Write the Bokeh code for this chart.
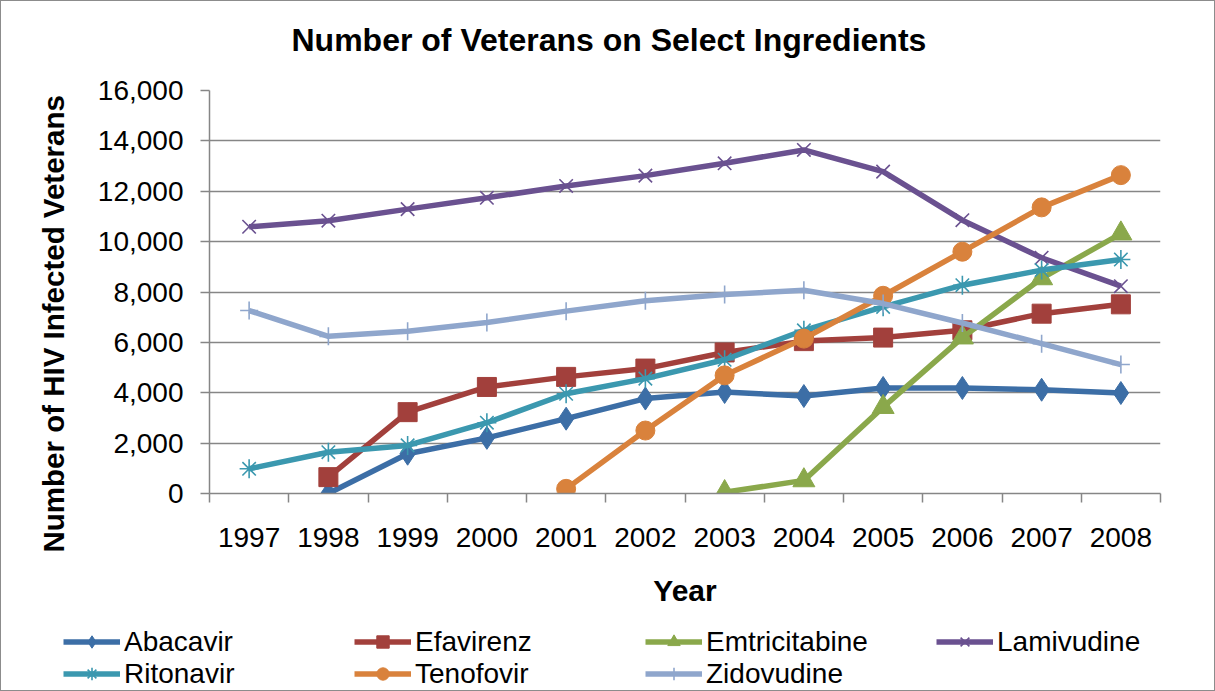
from bokeh.plotting import figure
from bokeh.layouts import column
from bokeh.models import (Range1d, FixedTicker, NumeralTickFormatter, Legend,
                          LegendItem, Title, ColumnDataSource)
from bokeh.embed import file_html
from bokeh.resources import INLINE

# ---------------- data ----------------
years = [1997, 1998, 1999, 2000, 2001, 2002, 2003, 2004, 2005, 2006, 2007, 2008]
abacavir = [None, 0, 1580, 2210, 2970, 3770, 4030, 3870, 4190, 4190, 4120, 3990]
efavirenz = [None, 650, 3230, 4230, 4630, 4960, 5600, 6050, 6190, 6480, 7140, 7510]
emtricitabine = [None, None, None, None, None, None, 50, 520, 3430, 6190, 8540, 10320]
lamivudine = [10590, 10830, 11290, 11740, 12210, 12620, 13110, 13640, 12780, 10850, 9360, 8230]
ritonavir = [980, 1640, 1910, 2810, 3960, 4560, 5310, 6480, 7410, 8270, 8870, 9290]
tenofovir = [None, None, None, None, 185, 2500, 4690, 6150, 7850, 9600, 11360, 12640]
zidovudine = [7265, 6240, 6440, 6790, 7240, 7650, 7900, 8070, 7540, 6770, 5950, 5120]
y_ticks = [0, 2000, 4000, 6000, 8000, 10000, 12000, 14000, 16000]

series = [
    ("Abacavir", abacavir, "#3C6EA6", "diamond", 23, 1),
    ("Efavirenz", efavirenz, "#A2403C", "square", 19, 1),
    ("Emtricitabine", emtricitabine, "#8AA84B", "triangle", 22, 1),
    ("Lamivudine", lamivudine, "#6A5190", "x", 19, 1.6),
    ("Ritonavir", ritonavir, "#3B98AF", "asterisk", 19, 1.6),
    ("Tenofovir", tenofovir, "#D9823C", "circle", 19, 1),
    ("Zidovudine", zidovudine, "#8FA6CC", "cross", 18, 1.6),
]

FONT = "Liberation Sans"
GRAY = "#868686"

p = figure(width=1213, height=624,
           x_range=Range1d(1996.5, 2008.5), y_range=Range1d(0, 16000),
           output_backend="svg", toolbar_location=None,
           min_border_left=208, min_border_right=54,
           min_border_top=89, min_border_bottom=132)
p.frame_align = False
p.outline_line_color = None
p.background_fill_color = "white"
p.border_fill_color = "white"

# small spacer between the frame and the title
p.add_layout(Title(text=" ", text_font_size="2px", standoff=7), "above")

# title
p.title.text = "Number of Veterans on Select Ingredients"
p.title.text_font = FONT
p.title.text_font_size = "32px"
p.title.text_font_style = "bold"
p.title.text_color = "black"
p.title.align = "left"
p.title.vertical_align = "top"
p.title.offset = 82
p.title.standoff = 40

# y axis label as a title on the left
ylab = Title(text="Number of HIV Infected Veterans", align="left", offset=-59,
             text_font=FONT, text_font_size="29.5px", text_font_style="bold",
             text_color="black", standoff=50)
p.add_layout(ylab, "left")

# axes
yax = p.yaxis[0]
yax.ticker = FixedTicker(ticks=y_ticks)
yax.formatter = NumeralTickFormatter(format="0,0")
yax.major_label_text_font = FONT
yax.major_label_text_font_size = "28px"
yax.major_label_text_color = "black"
yax.major_label_standoff = 17
yax.major_tick_out = 9
yax.major_tick_in = 0
yax.minor_tick_out = 0
yax.minor_tick_in = 0
yax.axis_line_color = GRAY
yax.major_tick_line_color = GRAY
yax.axis_line_width = 1.5
yax.major_tick_line_width = 1.5

xax = p.xaxis[0]
xax.ticker = FixedTicker(ticks=years, minor_ticks=[y - 0.5 for y in years] + [years[-1] + 0.5])
xax.major_label_overrides = {y: str(y) for y in years}
xax.major_label_text_font = FONT
xax.major_label_text_font_size = "28px"
xax.major_label_text_color = "black"
xax.major_label_standoff = 25
xax.major_tick_out = 0
xax.major_tick_in = 0
xax.minor_tick_out = 9
xax.minor_tick_in = 0
xax.minor_tick_line_color = GRAY
xax.minor_tick_line_width = 1.5
xax.axis_line_color = GRAY
xax.axis_line_width = 1.5
xax.axis_label = "Year"
xax.axis_label_text_font = FONT
xax.axis_label_text_font_size = "30px"
xax.axis_label_text_font_style = "bold"
xax.axis_label_text_color = "black"
xax.axis_label_standoff = 24

p.xgrid.visible = False
p.ygrid.grid_line_color = GRAY
p.ygrid.grid_line_width = 1.5

# legend figure (below the chart)
p2 = figure(width=1213, height=65, x_range=Range1d(0, 1), y_range=Range1d(0, 1),
            output_backend="svg", toolbar_location=None,
            x_axis_type=None, y_axis_type=None, min_border=0)
p2.frame_align = False
p2.outline_line_color = None
p2.xgrid.visible = False
p2.ygrid.visible = False

items = []
for name, vals, color, marker, size, lw in series:
    ys = [float("nan") if v is None else v for v in vals]
    src = ColumnDataSource(dict(x=years, y=ys))
    p.line("x", "y", source=src, line_color=color, line_width=5.5)
    if marker in ("x", "asterisk", "cross"):
        kw = dict(marker=marker, size=size, line_color=color, line_width=lw, fill_color=None)
    else:
        kw = dict(marker=marker, size=size, line_color=color, fill_color=color)
    p.scatter("x", "y", source=src, **kw)
    # legend swatches: a single point placed outside the visible range
    lr = p2.line(x=[-10, -9], y=[-10, -10], line_color=color, line_width=5.5)
    sr = p2.scatter(x=[-10], y=[-10], **kw)
    items.append(LegendItem(label=name, renderers=[lr, sr]))

legend = Legend(items=items, location=(62, 0.5), orientation="horizontal",
                ncols=4, padding=0, margin=0, spacing=0,
                glyph_width=57, glyph_height=31, label_standoff=4,
                label_width=230, label_height=31,
                label_text_font=FONT, label_text_font_size="28px",
                label_text_color="black",
                border_line_color=None, background_fill_alpha=0)
p2.add_layout(legend, "center")

layout = column(p, p2, spacing=0)
layout.styles = {"border": "1px solid #8c8c8c"}

open("out.html", "w").write(file_html(layout, INLINE))
